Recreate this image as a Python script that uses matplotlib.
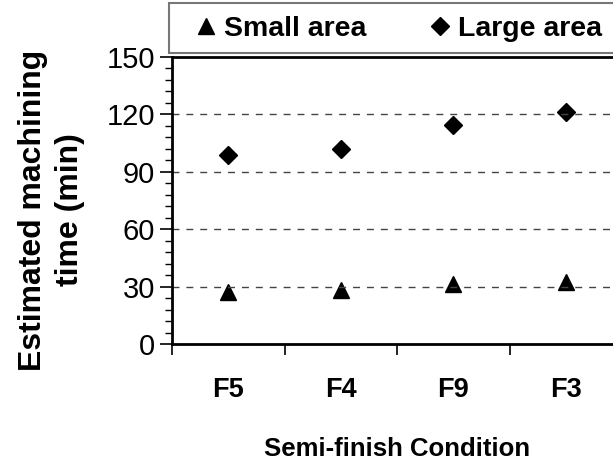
import matplotlib
matplotlib.use("Agg")
import matplotlib.pyplot as plt
from matplotlib.patches import Rectangle
from matplotlib.ticker import MultipleLocator, FixedLocator, NullFormatter

plt.rcParams['font.family'] = ['Liberation Sans', 'DejaVu Sans']

conditions = ["F5", "F4", "F9", "F3"]
small_area = [27, 28, 31.5, 32.5]
large_area = [99, 102, 114.5, 121.5]

fig = plt.figure(figsize=(6.13, 4.61), dpi=100)
ax = fig.add_axes([172 / 613, 117 / 461, 450 / 613, 287 / 461])

x = list(range(1, len(conditions) + 1))
ax.plot(x, small_area, linestyle='none', marker='^', markersize=12,
        color='black', label='Small area')
ax.plot(x, large_area, linestyle='none', marker='D', markersize=9,
        color='black', label='Large area')

ax.set_xlim(0.5, len(conditions) + 0.5)
ax.set_ylim(0, 150)

# y axis: major every 30, minor every 6
ax.yaxis.set_major_locator(MultipleLocator(30))
ax.yaxis.set_minor_locator(MultipleLocator(6))
ax.tick_params(axis='y', which='major', direction='out', length=9, width=1.2,
               labelsize=21, pad=3)
ax.tick_params(axis='y', which='minor', direction='out', length=5, width=1)

# x axis: ticks between categories, labels centered on categories
ax.xaxis.set_major_locator(FixedLocator([i + 0.5 for i in range(len(conditions) + 1)]))
ax.xaxis.set_major_formatter(NullFormatter())
ax.xaxis.set_minor_locator(FixedLocator(x))
ax.set_xticklabels(conditions, minor=True, fontweight='bold', fontsize=19.5)
ax.tick_params(axis='x', which='major', direction='out', length=8, width=1.2)
ax.tick_params(axis='x', which='minor', length=0, pad=24)

for yv in [30, 60, 90, 120]:
    ax.axhline(yv, color='#444444', linestyle=(0, (5, 5)), linewidth=1)

for side in ['left', 'bottom', 'top']:
    ax.spines[side].set_linewidth(2)
ax.spines['right'].set_visible(False)

ax.set_xlabel("Semi-finish Condition", fontsize=18.5, fontweight='bold', labelpad=24)
ax.set_ylabel("Estimated machining\ntime (min)", fontsize=23, fontweight='bold',
              linespacing=1.3)
ax.yaxis.set_label_coords(-0.193, 0.467)

# legend box spans past the right edge, like the cropped original
fig.patches.append(Rectangle((169 / 613, 1 - 53 / 461), 460 / 613, 50 / 461,
                             transform=fig.transFigure, facecolor='white',
                             edgecolor='#777777', linewidth=1.5))
leg = fig.legend(loc='center left', bbox_to_anchor=(192 / 613, 1 - 29 / 461),
                 ncol=2, borderaxespad=0, borderpad=0, frameon=False,
                 prop={'weight': 'bold', 'size': 20.5}, handletextpad=0.12,
                 handlelength=1.0, columnspacing=2.1)

fig.savefig("out.png", dpi=100)
